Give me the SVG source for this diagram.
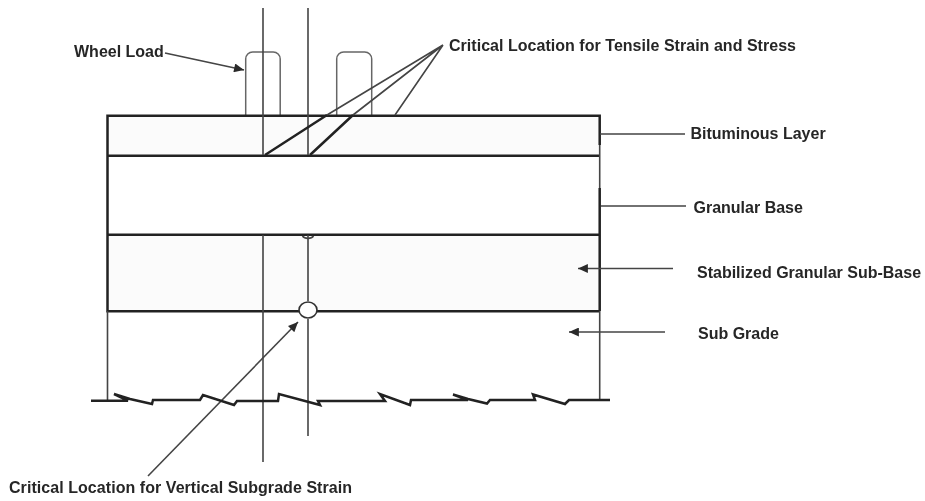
<svg xmlns="http://www.w3.org/2000/svg" width="925" height="501" viewBox="0 0 925 501">
<style>
text{font-family:"Liberation Sans",Arial,sans-serif;font-size:16px;font-weight:bold;fill:#262626}
.thick{stroke:#222;stroke-width:2.5;fill:none}
.thin{stroke:#444;stroke-width:1.6;fill:none}
.wheel{stroke:#666;stroke-width:1.5;fill:#fff}
.leader{stroke:#444;stroke-width:1.6;fill:none}
.band{fill:#fbfbfb;stroke:none}
</style>
<defs>
<marker id="ah" viewBox="0 0 11 10" refX="11" refY="5" markerWidth="11" markerHeight="9" markerUnits="userSpaceOnUse" orient="auto"><path d="M0 0L11 5L0 10Z" fill="#2a2a2a"/></marker>
<filter id="soft" x="-5%" y="-5%" width="110%" height="110%"><feGaussianBlur stdDeviation="0.45"/></filter>
</defs>
<rect width="925" height="501" fill="#fff"/>
<g filter="url(#soft)">
<g id="wheel-1"><rect class="wheel" x="245.7" y="52" width="34.5" height="70" rx="7"/></g>
<g id="wheel-2"><rect class="wheel" x="336.7" y="52" width="35" height="70" rx="7"/></g>
<g id="bituminous-layer"><rect class="band" x="107.5" y="115.7" width="492" height="40"/><text x="690.5" y="138.5">Bituminous Layer</text></g>
<g id="granular-base"><text x="693.5" y="213">Granular Base</text></g>
<g id="sub-base"><rect class="band" x="107.5" y="235" width="492" height="76"/><text x="697" y="278">Stabilized Granular Sub-Base</text></g>
<g id="sub-grade"><text x="698" y="338.5">Sub Grade</text></g>
<g id="wheel-load-label"><text x="74" y="56.5">Wheel Load</text></g>
<g id="tensile-label"><text x="449" y="50.5" textLength="347">Critical Location for Tensile Strain and Stress</text></g>
<g id="subgrade-label"><text x="9" y="493" textLength="343">Critical Location for Vertical Subgrade Strain</text></g>
<g id="connectors">
<path class="thick" d="M107.5 156V115.7H599.7V145M107.5 155.7H599.7M107.5 156V235M107.5 234.7H599.7M599.7 188V311M107.5 234V311.2H299M317 311.2H599.7"/>
<path class="thin" d="M599.7 145V188M107.5 311V400M599.7 311V400M263 8V155M308 8V155M263 235V462M308 235V301M308 319V436"/>
<path class="thin" d="M302.5 236a6 4 0 0 0 11 0"/>
<ellipse cx="308" cy="310" rx="9" ry="8" fill="#fff" stroke="#333" stroke-width="1.6"/>
<path class="leader" d="M165 53L244 70" marker-end="url(#ah)"/>
<path class="leader" d="M148 476L298 322" marker-end="url(#ah)"/>
<path class="leader" d="M443 45L327 115M443 45L353 115M443 45L395 115"/>
<path class="thick" d="M265 155L327 115M310 155L353 115"/>
<path class="leader" d="M600 134H685M601 206H686"/>
<path class="leader" d="M673 268.5H578" marker-end="url(#ah)"/>
<path class="leader" d="M665 332H569" marker-end="url(#ah)"/>
<path class="thick" d="M91 400.7H128L114 394L130 399L152 404L153 400H200L203 395L234 405L237 401H278L279 394L320 405L318 401H385L380 394L410 405L411 400H468L453 394.5L468 399L487 403.5L490 400H535L533 394.5L565 404L569 400H610"/>
</g>
</g>
</svg>
